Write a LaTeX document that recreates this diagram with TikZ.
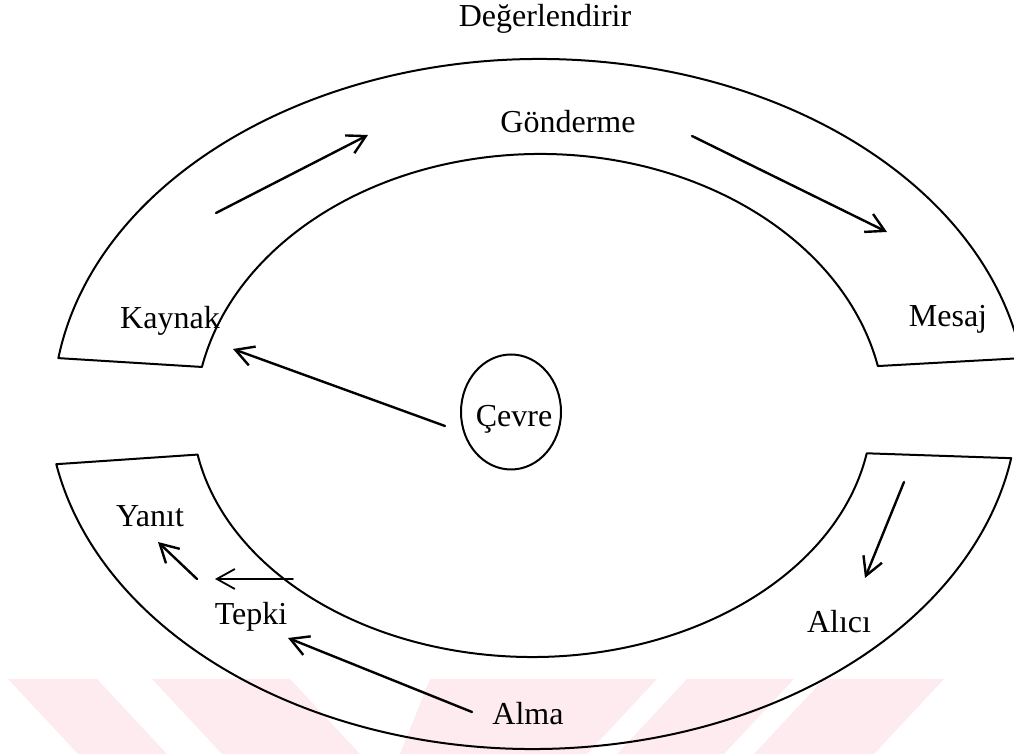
\documentclass[tikz,border=0pt]{standalone}
\usepackage{fontspec}
\setmainfont{Liberation Serif}
\usetikzlibrary{arrows.meta,calc,shapes.geometric}
\definecolor{wmpink}{RGB}{253,235,239}
\begin{document}
\begin{tikzpicture}[x=1pt,y=1pt,
  band/.style={draw=black, line width=2pt, line join=round},
  flow/.style={draw=black, line width=2.4pt, line cap=round,
    -{Straight Barb[length=18pt,width=20pt]}},
  lbl/.style={anchor=base, inner sep=0pt, font=\fontsize{32}{38}\selectfont},
  wm/.style={fill=wmpink, draw=none}
]
\useasboundingbox (0,0) rectangle (1014,754);

% faint stripes along the bottom edge
\fill[wm] (8,75) -- (97,75) -- (167,0) -- (78,0) -- cycle;
\fill[wm] (152,75) -- (290,75) -- (360,0) -- (222,0) -- cycle;
\fill[wm] (430,75) -- (657,75) -- (587,0) -- (470,0) -- (400,0) -- cycle;
\fill[wm] (687,75) -- (794,75) -- (724,0) -- (617,0) -- cycle;
\fill[wm] (824,75) -- (944,75) -- (874,0) -- (754,0) -- cycle;

% ellipse centres
\coordinate (uo) at (540,344);
\coordinate (ui) at (540,334);
\coordinate (lo) at (533,354);
\coordinate (li) at (532,344);

% upper band: Kaynak - Gönderme - Mesaj
\draw[band] ($(uo)+(171.5:487pt and 351pt)$)
  arc[start angle=171.5, end angle=8.5, x radius=487pt, y radius=351pt]
  -- ($(ui)+(11.7:345pt and 266pt)$)
  arc[start angle=11.7, end angle=168.5, x radius=345pt, y radius=266pt]
  -- cycle;

% lower band: Alıcı - Alma - Tepki - Yanıt
\draw[band] ($(lo)+(190.6:485pt and 349pt)$)
  arc[start angle=190.6, end angle=350.4, x radius=485pt, y radius=349pt]
  -- ($(li)+(349.9:340pt and 247pt)$)
  arc[start angle=349.9, end angle=190.4, x radius=340pt, y radius=247pt]
  -- cycle;

% labels
\node[lbl] (deger) at (545,727) {Değerlendirir};
\node[lbl] (gond)  at (568,621) {Gönderme};
\node[lbl] (kay)   at (170,425) {Kaynak};
\node[lbl] (mes)   at (948,427) {Mesaj};
\node[lbl] (yan)   at (150,227) {Yanıt};
\node[lbl] (tep)   at (251,129) {Tepki};
\node[lbl] (ali)   at (839,121) {Alıcı};
\node[lbl] (alma)  at (528,29)  {Alma};
\node[draw, line width=2pt, ellipse, minimum width=100pt, minimum height=115pt,
      inner sep=0pt] (cevre) at (511,342) {};
\node[lbl] (cevret) at (514,327) {Çevre};

% arrow end points
\coordinate (a1s) at (216,541); \coordinate (a1e) at (368,619);
\coordinate (a2s) at (692,618); \coordinate (a2e) at (887,522);
\coordinate (a3s) at (445,328); \coordinate (a3e) at (233,405);
\coordinate (a4s) at (904,272); \coordinate (a4e) at (865,176);
\coordinate (a5s) at (472,42);  \coordinate (a5e) at (288,116);
\coordinate (a6s) at (293,175); \coordinate (a6e) at (215,175);
\coordinate (a7s) at (197,175); \coordinate (a7e) at (158,212);

\draw[flow] (a1s) -- (a1e);
\draw[flow] (a2s) -- (a2e);
\draw[flow] (a3s) -- (a3e);
\draw[flow] (a4s) -- (a4e);
\draw[flow] (a5s) -- (a5e);
\draw[flow, line width=1.8pt] (a6s) -- (a6e);
\draw[flow] (a7s) -- (a7e);
\end{tikzpicture}
\end{document}
